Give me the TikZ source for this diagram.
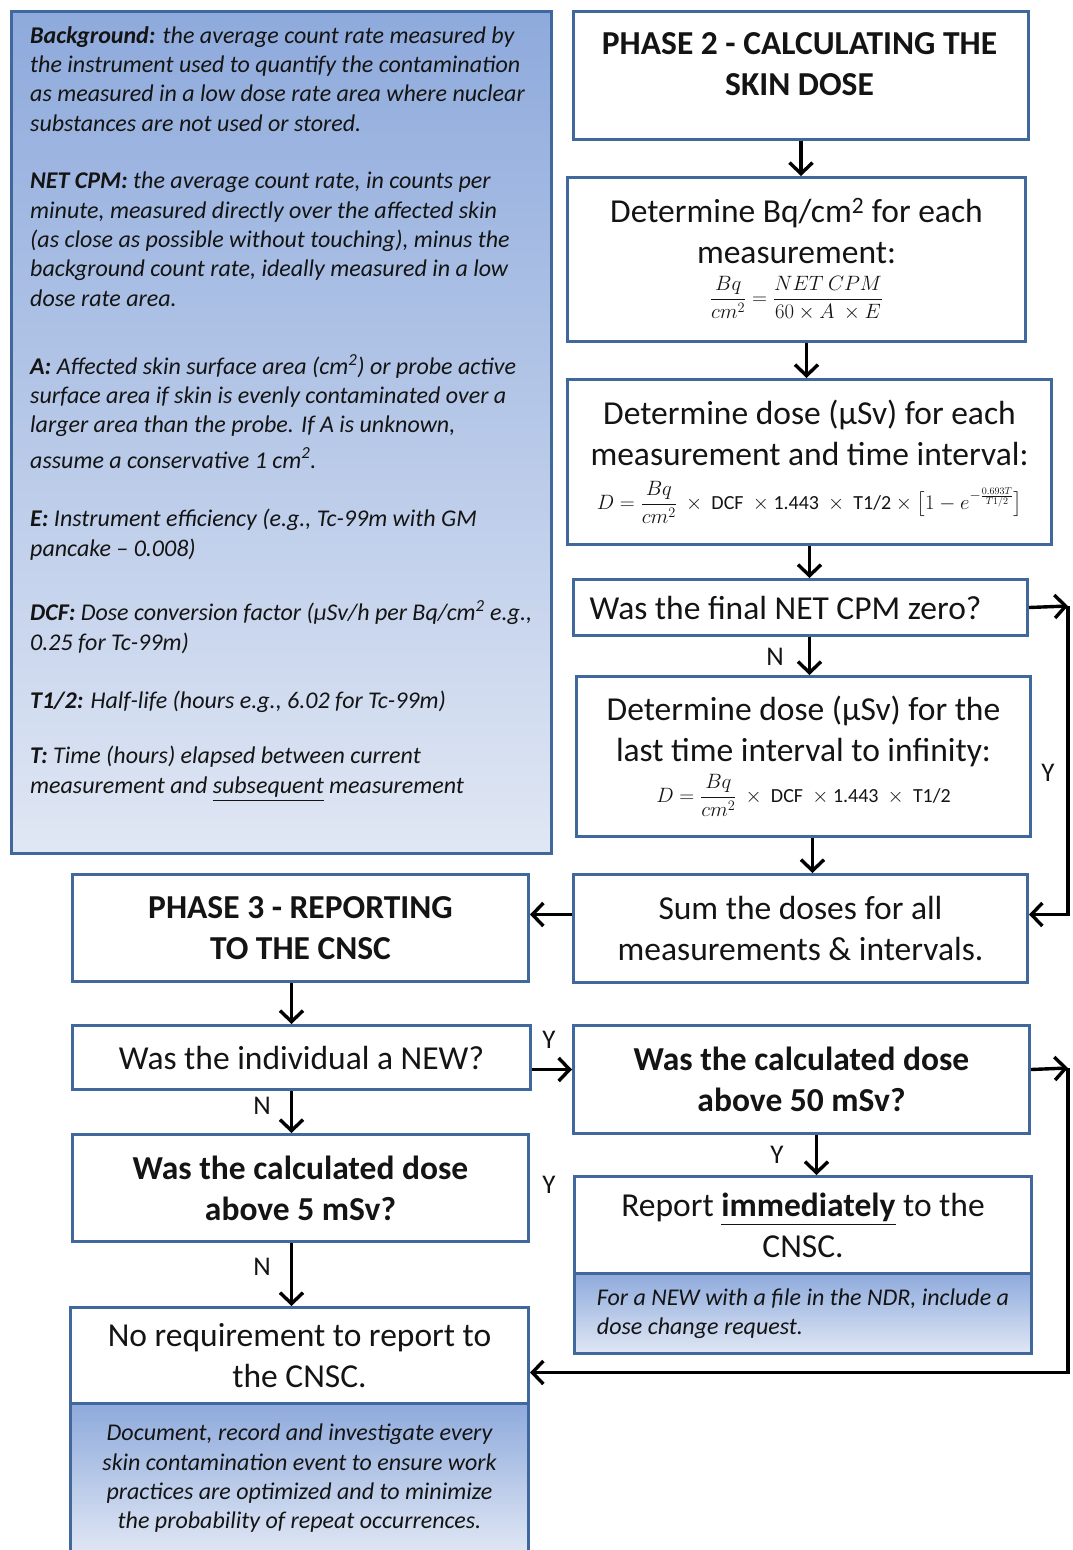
\documentclass[tikz,border=0pt]{standalone}
\usepackage{amsmath}
\usepackage{fontspec}
\setmainfont{Carlito}
\usetikzlibrary{arrows.meta}
\definecolor{bord}{RGB}{65,104,156}
\definecolor{btop}{RGB}{142,170,220}
\definecolor{bbot}{RGB}{224,231,244}
\definecolor{ink}{RGB}{20,20,20}
\newcommand{\fsbox}{\fontsize{33.5}{41}\selectfont}
\newcommand{\fshead}{\fontsize{33.5}{41}\selectfont\bfseries}
\newcommand{\fsdef}{\fontsize{24}{29.3}\selectfont\itshape}
\newcommand{\fsnote}{\fontsize{24}{29.3}\selectfont\itshape}
\newcommand{\fsmath}{\fontsize{20}{24}\selectfont}
\begin{document}
\begin{tikzpicture}[x=1pt,y=-1pt,
  box/.style={draw=bord, line width=3pt, fill=white, anchor=north west, inner sep=0pt, align=center, font=\fsbox, text=ink},
  note/.style={draw=bord, line width=3pt, top color=btop, bottom color=bbot, anchor=north west, inner sep=0pt, align=center, font=\fsnote, text=ink},
  arr/.style={line width=3.4pt, line join=miter, -{Straight Barb[length=11pt,width=23pt]}},
  lbl/.style={font=\fontsize{27}{30}\selectfont, text=ink, inner sep=0pt},
  deftext/.style={anchor=base west, align=left, inner sep=0pt, font=\fsdef, text=ink},
]
\useasboundingbox (0,0) rectangle (1072,1550);
\clip (0,0) rectangle (1072,1550);

% definitions panel (base anchor = baseline of last line)
\node[note, minimum width=540pt, minimum height=842pt] (defs) at (10,10) {};
\node[deftext] (d1) at (30,131) {\textbf{Background:} the average count rate measured by\\the instrument used to quantify the contamination\\as measured in a low dose rate area where nuclear\\substances are not used or stored.};
\node[deftext] (d2) at (30,306) {\textbf{NET CPM:} the average count rate, in counts per\\minute, measured directly over the affected skin\\(as close as possible without touching), minus the\\background count rate, ideally measured in a low\\dose rate area.};
\node[deftext] (d3) at (30,468) {\textbf{A:} Affected skin surface area (cm\textsuperscript{2}) or probe active\\surface area if skin is evenly contaminated over a\\larger area than the probe. If A is unknown,\\[6pt]assume a conservative 1 cm\textsuperscript{2}.};
\node[deftext] (d4) at (30,556) {\textbf{E:} Instrument efficiency (e.g., Tc-99m with GM\\pancake – 0.008)};
\node[deftext] (d5) at (30,650) {\textbf{DCF:} Dose conversion factor (µSv/h per Bq/cm\textsuperscript{2} e.g.,\\0.25 for Tc-99m)};
\node[deftext] (d6) at (30,708) {\textbf{T1/2:} Half-life (hours e.g., 6.02 for Tc-99m)};
\node[deftext] (d7) at (30,793) {\textbf{T:} Time (hours) elapsed between current\\measurement and \underline{subsequent} measurement};

% right column
\node[box, minimum width=455pt, minimum height=128pt] (p2) at (572,10) {};
\node[font=\fshead, align=center, inner sep=0pt, text=ink] (p2t) at (799.5,64) {PHASE 2 - CALCULATING THE\\SKIN DOSE};
\node[box, minimum width=458pt, minimum height=164pt] (bq) at (566,176) {Determine Bq/cm\textsuperscript{2} for each\\measurement:\\{\fsmath$\dfrac{Bq}{cm^2}=\dfrac{NET\ CPM}{60\times A\ \times E}$}};
\node[box, minimum width=484pt, minimum height=165pt] (dose) at (566,378) {Determine dose (µSv) for each\\measurement and time interval:\\[3pt]{\fsmath$D=\dfrac{Bq}{cm^2}\ \times\ \text{DCF}\ \times\text{1.443}\ \times\ \text{T1/2}\times\bigl[1-e^{-\frac{0.693T}{T1/2}}\bigr]$}};
\node[box, minimum width=454pt, minimum height=56pt] (zero) at (572,578) {Was the final NET CPM zero?\hspace*{30pt}};
\node[box, minimum width=454pt, minimum height=160pt] (last) at (575,675) {Determine dose (µSv) for the\\last time interval to infinity:\\{\fsmath$D=\dfrac{Bq}{cm^2}\ \times\ \text{DCF}\ \times\text{1.443}\ \times\ \text{T1/2}$}};
\node[box, minimum width=454pt, minimum height=108pt] (sum) at (572,873) {Sum the doses for all\\measurements \& intervals.};

% left lower column
\node[box, minimum width=456pt, minimum height=107pt, font=\fshead] (p3) at (71,873) {PHASE 3 - REPORTING\\TO THE CNSC};
\node[box, minimum width=458pt, minimum height=64pt] (new) at (71,1024) {Was the individual a NEW?};
\node[box, minimum width=456pt, minimum height=107pt, font=\fshead] (q5) at (71,1133) {Was the calculated dose\\above 5 mSv?};
\node[box, minimum width=458pt, minimum height=96pt] (norep) at (69,1306) {No requirement to report to\\the CNSC.};
\node[note, minimum width=458pt, minimum height=150pt] (norepn) at (69,1402) {Document, record and investigate every\\skin contamination event to ensure work\\practices are optimized and to minimize\\the probability of repeat occurrences.};

% right lower column
\node[box, minimum width=456pt, minimum height=108pt, font=\fshead] (q50) at (572,1024) {Was the calculated dose\\above 50 mSv?};
\node[box, minimum width=457pt, minimum height=97pt] (rep) at (573,1175) {Report \textbf{\underline{immediately}} to the\\CNSC.};
\node[note, minimum width=457pt, minimum height=80pt, align=left] (repn) at (573,1272) {For a NEW with a file in the NDR, include a\\dose change request.};

% connectors
\coordinate (yr1) at (1068,606);
\coordinate (yr2) at (1068,1068);
\draw[arr] (p2.south) -- (p2.south |- bq.north);
\draw[arr] ([xshift=10pt]bq.south) -- ([xshift=10pt]bq.south |- dose.north);
\draw[arr] (dose.south) -- (dose.south |- zero.north);
\draw[arr] ([xshift=9pt]zero.south) -- ([xshift=9pt]zero.south |- last.north);
\draw[arr] ([xshift=9pt]last.south) -- ([xshift=9pt]last.south |- sum.north);
\draw[arr] (zero.east) -- (yr1);
\draw[arr] (yr1) |- ([yshift=14pt]sum.east);
\draw[arr] ([yshift=14pt]sum.west) -- ([yshift=14pt]sum.west -| p3.east);
\draw[arr] ([xshift=-9pt]p3.south) -- ([xshift=-9pt]p3.south |- new.north);
\draw[arr] ([xshift=-10pt]new.south) -- ([xshift=-10pt]new.south |- q5.north);
\draw[arr] ([yshift=-12pt]new.east) -- ([yshift=-12pt]new.east -| q50.west);
\draw[arr] ([xshift=-9pt]q5.south) -- ([xshift=-9pt]q5.south |- norep.north);
\draw[arr] ([xshift=15pt]q50.south) -- ([xshift=15pt]q50.south |- rep.north);
\draw[arr] ([yshift=10pt]q50.east) -- (yr2);
\draw[arr] (yr2) |- ([yshift=-17pt]norep.east);

% branch labels
\node[lbl] (lN1) at (775,657) {N};
\node[lbl] (lY1) at (1048,773) {Y};
\node[lbl] (lY2) at (549,1040) {Y};
\node[lbl] (lN2) at (262,1106) {N};
\node[lbl] (lY3) at (777,1155) {Y};
\node[lbl] (lY4) at (549,1185) {Y};
\node[lbl] (lN3) at (262,1267) {N};
\end{tikzpicture}
\end{document}
